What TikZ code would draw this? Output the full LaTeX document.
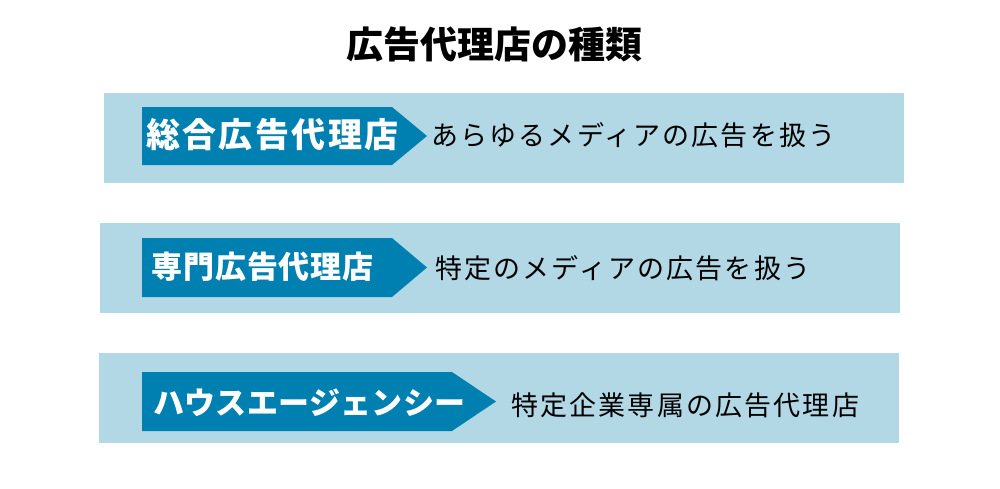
\documentclass[tikz,border=0pt]{standalone}
\usepackage{fontspec}
\setmainfont{Noto Sans CJK JP}
\definecolor{boxbg}{HTML}{B2D8E6}
\definecolor{arrowbg}{HTML}{0080B0}
\begin{document}
\begin{tikzpicture}[x=0.75pt,y=-0.75pt,
  band/.style={fill=boxbg},
  tag/.style={fill=arrowbg},
  tagtext/.style={anchor=west,inner sep=0pt,text=white,font=\bfseries\fontsize{23.25pt}{28pt}\selectfont},
  desctext/.style={anchor=west,inner sep=0pt,text=black,font=\fontsize{20.25pt}{24pt}\selectfont\addfontfeatures{LetterSpace=8}}]
\useasboundingbox[fill=white] (0,0) rectangle (1000,489);
% title
\node[inner sep=0pt,font=\bfseries\fontsize{27.75pt}{32pt}\selectfont] (title) at (494,44) {広告代理店の種類};
% bands
\fill[band] (104,93) rectangle (904,183);
\fill[band] (100,223) rectangle (900,313);
\fill[band] (99,353) rectangle (899,443);
% arrows
\fill[tag] (142,107) -- (392,107) -- (427,136) -- (392,165) -- (142,165) -- cycle;
\fill[tag] (142,238) -- (392,238) -- (427,267.5) -- (392,297) -- (142,297) -- cycle;
\fill[tag] (142,372) -- (452,372) -- (496,401.5) -- (452,431) -- (142,431) -- cycle;
% tag texts
\node[tagtext,font=\bfseries\fontsize{25.5pt}{30pt}\selectfont\addfontfeatures{LetterSpace=7}] (t1) at (146,135) {総合広告代理店};
\node[tagtext,font=\bfseries\fontsize{23.25pt}{28pt}\selectfont\addfontfeatures{LetterSpace=3}] (t2) at (151,267) {専門広告代理店};
\node[tagtext,font=\bfseries\fontsize{23.25pt}{28pt}\selectfont\addfontfeatures{LetterSpace=1}] (t3) at (153,403) {ハウスエージェンシー};
% descriptions
\node[desctext] (d1) at (431,135) {あらゆるメディアの広告を扱う};
\node[desctext] (d2) at (435,268) {特定のメディアの広告を扱う};
\node[desctext] (d3) at (511,405) {特定企業専属の広告代理店};
\end{tikzpicture}
\end{document}
